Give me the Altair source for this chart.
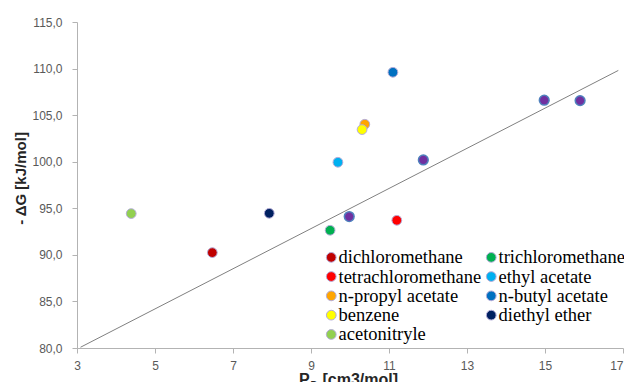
import altair as alt
import pandas as pd

# ---- data ----
solvents = ["dichloromethane", "trichloromethane", "tetrachloromethane", "ethyl acetate",
            "n-propyl acetate", "n-butyl acetate", "benzene", "diethyl ether", "acetonitryle"]
pd_values = [6.47, 9.49, 11.20, 9.69, 10.38, 11.10, 10.31, 7.93, 4.39]
dg_values = [90.24, 92.64, 93.71, 99.94, 104.02, 109.6, 103.45, 94.46, 94.43]
solvent_colors = ["#C00000", "#00B050", "#FF0000", "#00B0F0", "#FFA500", "#0070C0",
                  "#FFFF00", "#002060", "#92D050"]

# legend order (legend is filled column by column)
legend_order = ["dichloromethane", "tetrachloromethane", "n-propyl acetate", "benzene",
                "acetonitryle", "trichloromethane", "ethyl acetate", "n-butyl acetate",
                "diethyl ether"]

other_x = [9.98, 11.88, 14.98, 15.90]
other_y = [94.11, 100.19, 106.6, 106.56]

line_x = [3.09, 16.88]
line_y = [80.08, 109.8]

x_ticks = [3, 5, 7, 9, 11, 13, 15, 17]
y_ticks = [80, 85, 90, 95, 100, 105, 110, 115]

df = pd.DataFrame({"solvent": solvents, "x": pd_values, "y": dg_values})
df_other = pd.DataFrame({"x": other_x, "y": other_y})
df_line = pd.DataFrame({"x": line_x, "y": line_y})
color_of = dict(zip(solvents, solvent_colors))

xscale = alt.Scale(domain=[3, 17], nice=False, zero=False)
yscale = alt.Scale(domain=[80, 115], nice=False, zero=False)

xaxis = alt.Axis(values=x_ticks, title=None, grid=False, labelFont="Liberation Sans",
                 labelFontSize=12, labelColor="#595959", domainColor="#b3b3b3",
                 tickColor="#b3b3b3", tickSize=5, labelPadding=7, labelFlush=False,
                 labelAlign={"expr": "datum.value >= 17 ? 'right' : 'center'"})
yaxis = alt.Axis(values=y_ticks, title="- \u0394G [kJ/mol]", grid=False,
                 labelFont="Liberation Sans", labelFontSize=12, labelColor="#595959",
                 labelExpr="replace(format(datum.value, '.1f'), '.', ',')",
                 domainColor="#b3b3b3", tickColor="#b3b3b3", tickSize=5, labelPadding=10,
                 titleFont="Liberation Sans", titleFontSize=15, titleFontWeight="bold",
                 titleColor="#262626", titleAngle=-90, titleAlign="center",
                 titleBaseline="middle", titleX=-57, titleY=156, labelFlush=False)

line = alt.Chart(df_line).mark_line(color="#808080", strokeWidth=1).encode(
    x=alt.X("x:Q", scale=xscale, axis=xaxis),
    y=alt.Y("y:Q", scale=yscale, axis=yaxis),
)

others = alt.Chart(df_other).mark_circle(size=95, opacity=1, color="#7030A0",
                                         stroke="#4F81BD", strokeWidth=1.5).encode(
    x=alt.X("x:Q", scale=xscale),
    y=alt.Y("y:Q", scale=yscale),
)

points = alt.Chart(df).mark_circle(size=95, opacity=1, stroke="#b4acd8",
                                   strokeWidth=1).encode(
    x=alt.X("x:Q", scale=xscale),
    y=alt.Y("y:Q", scale=yscale),
    color=alt.Color("solvent:N",
                    scale=alt.Scale(domain=legend_order,
                                    range=[color_of[s] for s in legend_order]),
                    legend=alt.Legend(title=None, orient="none", legendX=245, legendY=226,
                                      columns=2, columnPadding={"expr": "-1"},
                                      rowPadding=0.3,
                                      padding=0, symbolType="circle", symbolSize=95,
                                      symbolStrokeColor="#b4acd8", symbolStrokeWidth=1,
                                      symbolOpacity=1,
                                      labelFont="Liberation Serif", labelFontSize=18.5,
                                      labelColor="#000000", labelOffset={"expr": "-2"},
                                      labelLimit=400)),
)

title_p = alt.Chart(pd.DataFrame({"t": ["P"]})).mark_text(
    align="left", baseline="alphabetic", font="Liberation Sans", fontSize=16,
    fontWeight="bold", color="#262626").encode(
    text="t:N", x=alt.value(222), y=alt.value(363))
title_d = alt.Chart(pd.DataFrame({"t": ["D"]})).mark_text(
    align="left", baseline="alphabetic", font="Liberation Sans", fontSize=10,
    fontWeight="bold", color="#262626").encode(
    text="t:N", x=alt.value(233.5), y=alt.value(366.5))
title_rest = alt.Chart(pd.DataFrame({"t": ["[cm3/mol]"]})).mark_text(
    align="left", baseline="alphabetic", font="Liberation Sans", fontSize=16,
    fontWeight="bold", color="#262626").encode(
    text="t:N", x=alt.value(245.5), y=alt.value(363))

chart = alt.layer(line, others, points, title_p, title_d, title_rest).properties(
    width=546, height=326,
    autosize=alt.AutoSizeParams(type="none"),
    padding={"left": 69, "top": 14, "right": 1, "bottom": 40},
    background="white",
).configure_view(stroke=None)

chart.save("out.html", embed_options={"renderer": "svg", "actions": False})
